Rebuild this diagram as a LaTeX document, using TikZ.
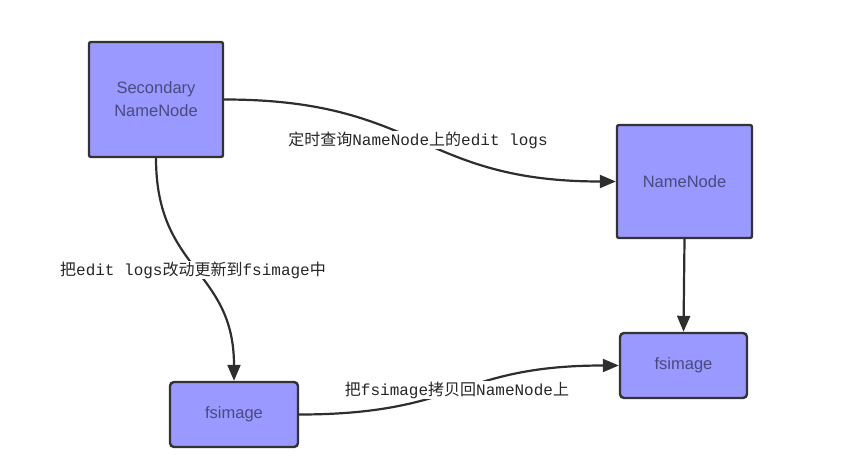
\documentclass[tikz,border=0pt]{standalone}
\usepackage{fontspec}
\setmainfont{Liberation Sans}
\newfontfamily\cjkfont{Noto Sans CJK SC}
\newfontfamily\monofont{Liberation Mono}
\usetikzlibrary{arrows.meta}
\newcommand\zh[1]{{\cjkfont #1}}
\newcommand\en[1]{{\monofont #1}}
\definecolor{boxfill}{HTML}{9999FF}
\definecolor{boxline}{HTML}{333333}
\definecolor{boxtext}{HTML}{4A4A7E}
\definecolor{linecol}{HTML}{2E2E2E}
\begin{document}
\begin{tikzpicture}[x=1pt,y=-1pt,
  box/.style={draw=boxline,fill=boxfill,line width=2.4pt,rounded corners=2pt,
    text=boxtext,align=center,font=\fontsize{16.5}{23}\selectfont,inner sep=0pt},
  conn/.style={draw=linecol,line width=2.2pt,-{Triangle[length=16pt,width=13pt]}},
  lbl/.style={fill=white,inner sep=1pt,text=black!85,font=\fontsize{16}{18}\selectfont}]
\useasboundingbox (0,0) rectangle (867,462);
\node[box,minimum width=134pt,minimum height=115pt] (snn) at (156,99.5) {Secondary\\NameNode};
\node[box,minimum width=135pt,minimum height=113pt] (nn) at (684.5,181.5) {NameNode};
\node[box,rounded corners=4pt,minimum width=127pt,minimum height=65pt] (fsr) at (683.5,365.5) {fsimage};
\node[box,rounded corners=4pt,minimum width=128pt,minimum height=65pt] (fsl) at (234,414.5) {fsimage};
\draw[conn] (snn.east) .. controls +(197,0) and +(-197,0) .. (nn.west);
\draw[conn] (snn.south) .. controls +(0,113) and +(0,-112) .. (fsl.north);
\draw[conn] (fsl.east) .. controls +(161,0) and +(-161,0) .. (fsr.west);
\draw[conn] (nn.south) -- (fsr.north);
\node[lbl] (l1) at (418,140) {\zh{定时查询}\en{NameNode}\zh{上的}\en{edit logs}};
\node[lbl] (l2) at (193,270) {\zh{把}\en{edit logs}\zh{改动更新到}\en{fsimage}\zh{中}};
\node[lbl] (l3) at (457,390) {\zh{把}\en{fsimage}\zh{拷贝回}\en{NameNode}\zh{上}};
\end{tikzpicture}
\end{document}
